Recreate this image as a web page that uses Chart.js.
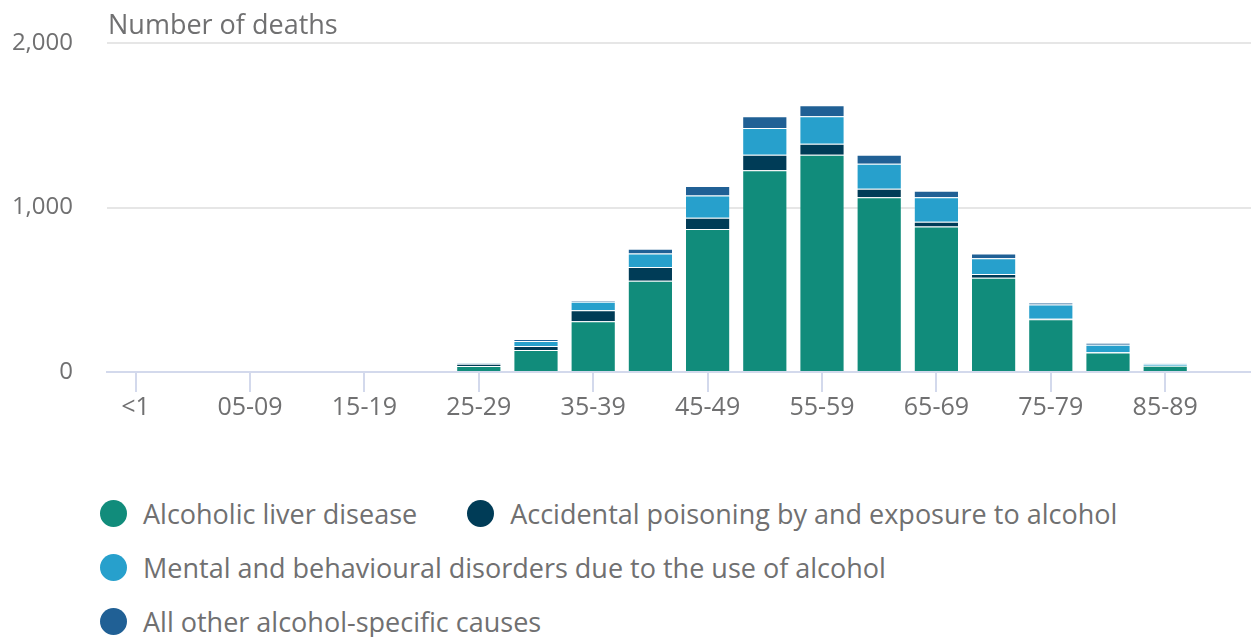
<!DOCTYPE html>
<html lang="en">
<head>
    <meta charset="UTF-8">
    <title>Alcohol-specific deaths by age group</title>
    <script src="https://cdn.jsdelivr.net/npm/chart.js"></script>
    <style>
        body { margin: 0; background: #ffffff; font-family: "Open Sans", sans-serif; }
        .chart-wrap { position: relative; width: 1251px; height: 424px; }
        .legend { display: flex; flex-wrap: wrap; margin: 62px 0 0 100px; width: 1151px; }
        .legend-item { display: flex; align-items: center; height: 54px; margin-right: 50px; color: #707071; font-size: 27px; white-space: nowrap; }
        .legend-dot { width: 27px; height: 27px; border-radius: 50%; margin-right: 16px; }
    </style>
</head>
<body>
    <div class="chart-wrap">
        <canvas id="deathsChart"></canvas>
    </div>
    <div class="legend" id="legend"></div>

    <script>
        const ageGroups = ['<1', '01-04', '05-09', '10-14', '15-19', '20-24', '25-29', '30-34', '35-39', '40-44',
            '45-49', '50-54', '55-59', '60-64', '65-69', '70-74', '75-79', '80-84', '85-89', '90+'];

        const liverDisease = [0, 0, 0, 0, 0, 0, 36, 134, 309, 555, 870, 1227, 1321, 1063, 884, 573, 321, 118, 38, 0];
        const accidentalPoisoning = [0, 0, 0, 0, 0, 0, 14, 24, 67, 84, 67, 94, 67, 51, 29, 23, 3, 2, 0, 0];
        const mentalDisorders = [0, 0, 0, 0, 0, 0, 2, 30, 51, 81, 136, 162, 166, 152, 150, 95, 87, 45, 12, 0];
        const otherCauses = [0, 0, 0, 0, 0, 0, 2, 12, 6, 29, 57, 71, 67, 55, 39, 29, 10, 12, 2, 0];

        const yTicks = [0, 1000, 2000];

        const seriesNames = [
            'Alcoholic liver disease',
            'Accidental poisoning by and exposure to alcohol',
            'Mental and behavioural disorders due to the use of alcohol',
            'All other alcohol-specific causes'
        ];
        const seriesColors = ['#118c7b', '#003c57', '#27a0cc', '#206095'];
        const seriesValues = [liverDisease, accidentalPoisoning, mentalDisorders, otherCauses];

        const textGrey = '#707071';

        // axis title drawn above the plot, left aligned with it
        const axisTitle = {
            id: 'axisTitle',
            afterDraw(chart) {
                const ctx = chart.ctx;
                ctx.save();
                ctx.font = '27px "Open Sans"';
                ctx.fillStyle = textGrey;
                ctx.textBaseline = 'alphabetic';
                ctx.textAlign = 'left';
                ctx.fillText('Number of deaths', chart.chartArea.left + 1, chart.chartArea.top - 9);
                ctx.restore();
            }
        };

        function initChart() {
            const ctx = document.getElementById('deathsChart').getContext('2d');
            new Chart(ctx, {
                type: 'bar',
                data: {
                    labels: ageGroups,
                    datasets: seriesValues.map((vals, i) => ({
                        label: seriesNames[i],
                        data: vals,
                        backgroundColor: seriesColors[i],
                        borderColor: 'rgba(255, 255, 255, 0.18)',
                        borderWidth: 1,
                        categoryPercentage: 1,
                        barPercentage: 0.79
                    }))
                },
                options: {
                    responsive: true,
                    maintainAspectRatio: false,
                    animation: false,
                    layout: { padding: { top: 43, left: 10, right: 0, bottom: 0 } },
                    plugins: {
                        legend: { display: false },
                        tooltip: { enabled: false }
                    },
                    scales: {
                        x: {
                            stacked: true,
                            border: { color: '#d3d9ec', width: 2 },
                            grid: {
                                offset: false,
                                drawOnChartArea: false,
                                tickLength: 20,
                                lineWidth: 2,
                                color: c => (c.index % 2 === 0 ? '#d3d9ec' : 'rgba(0,0,0,0)')
                            },
                            ticks: {
                                autoSkip: false,
                                maxRotation: 0,
                                padding: 1,
                                color: textGrey,
                                font: { family: 'Open Sans', size: 25 },
                                callback: (v, i) => (i % 2 === 0 ? ageGroups[i] : '')
                            }
                        },
                        y: {
                            stacked: true,
                            min: yTicks[0],
                            max: yTicks[yTicks.length - 1],
                            afterBuildTicks: axis => { axis.ticks = yTicks.map(v => ({ value: v })); },
                            afterFit: axis => {
                                axis.width = 97;
                                // the big label gap should not push the plot down
                                axis.paddingTop = 0;
                                axis.paddingBottom = 0;
                            },
                            border: { display: false },
                            grid: {
                                drawTicks: false,
                                lineWidth: 2,
                                color: c => (c.tick.value === 0 ? 'rgba(0,0,0,0)' : '#e6e6e6')
                            },
                            ticks: {
                                padding: 34,
                                color: textGrey,
                                font: { family: 'Open Sans', size: 24 },
                                callback: v => v.toLocaleString('en-GB')
                            }
                        }
                    }
                },
                plugins: [axisTitle]
            });
        }

        function buildLegend() {
            const box = document.getElementById('legend');
            seriesNames.forEach((name, i) => {
                const item = document.createElement('div');
                item.className = 'legend-item';
                item.innerHTML = '<span class="legend-dot" style="background:' + seriesColors[i] + '"></span>' + name;
                box.appendChild(item);
            });
        }

        document.addEventListener('DOMContentLoaded', () => {
            initChart();
            buildLegend();
        });
    </script>
</body>
</html>
